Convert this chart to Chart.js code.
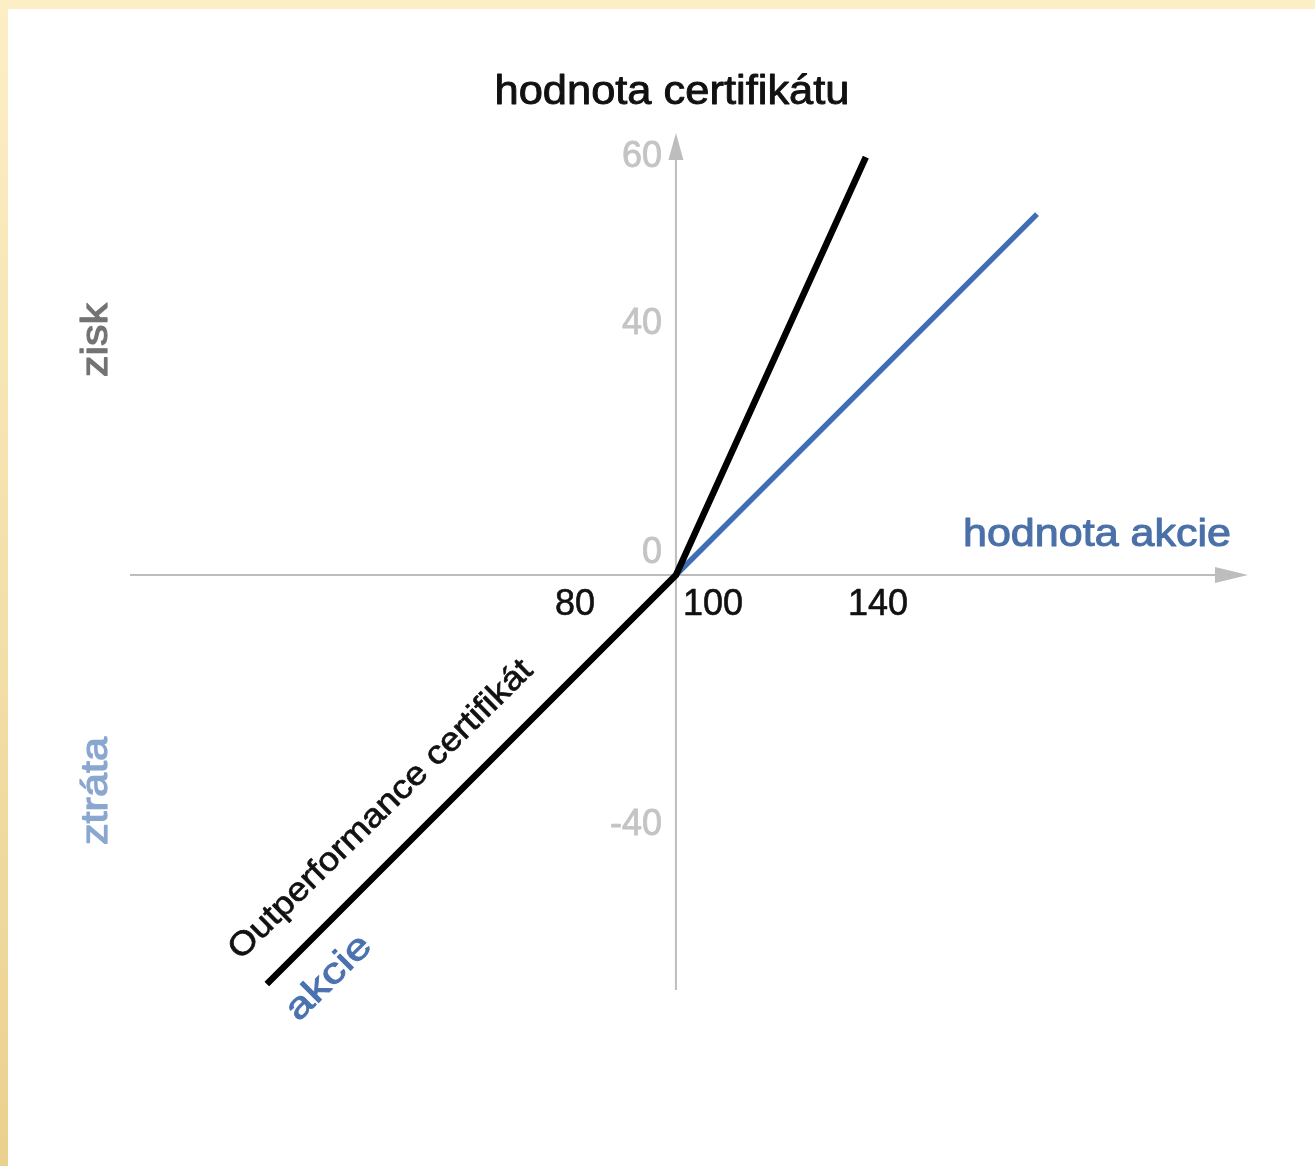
<!DOCTYPE html>
<html><head><meta charset="utf-8">
<style>html,body{margin:0;padding:0;background:#fff;overflow:hidden}#wrap{width:1315px;height:1166px;position:relative}canvas{display:block}</style>
<script src="https://cdn.jsdelivr.net/npm/chart.js@4.4.1/dist/chart.umd.min.js"></script>
</head><body><div id="wrap"><canvas id="c" width="1315" height="1166"></canvas></div>
<script>
// ---- data ----
const certX = [19.0, 100, 137.6];      // Outperformance certifikát
const certY = [-81.0, 0, 82.8];
const stockX = [19.0, 100, 171.5];     // akcie
const stockY = [-81.0, 0, 71.5];
const xTickValues = [80, 100, 140];
const xTickLabels = ['80', '100', '140'];
const yTickValues = [-49.5, 0, 49.7, 82.8];
const yTickLabels = ['-40', '0', '40', '60'];
const crossX = 100, crossY = 0;
const xMin = -8.1, xMax = 210.7, yMin = -82.2, yMax = 84.2;

// ---- style ----
const FONT = "'Liberation Sans', Arial, Helvetica, sans-serif";
const AXIS = '#bdbdbd';
const BLUE = '#3e6eb3';

function txt(ctx, s, x, y, o) {
  ctx.save();
  ctx.font = o.font;
  ctx.fillStyle = o.color;
  ctx.strokeStyle = o.color;
  ctx.textAlign = o.align || 'center';
  ctx.textBaseline = 'middle';
  ctx.translate(x, y);
  if (o.rot) ctx.rotate(o.rot * Math.PI / 180);
  let sx = 1;
  if (o.fitW) sx = o.fitW / ctx.measureText(s).width;
  ctx.scale(sx, 1);
  ctx.fillText(s, 0, 0);
  if (o.weight) { ctx.lineWidth = o.weight; ctx.lineJoin = 'round'; ctx.strokeText(s, 0, 0); }
  ctx.restore();
}

const bgPlugin = {
  id: 'bg',
  beforeDraw(chart) {
    const ctx = chart.ctx, W = chart.width, H = chart.height;
    ctx.save();
    ctx.fillStyle = '#fff';
    ctx.fillRect(0, 0, W, H);
    ctx.fillStyle = '#fcefc6';
    ctx.fillRect(0, 0, W, 9);
    const g = ctx.createLinearGradient(0, 0, 0, H);
    g.addColorStop(0, '#fcefc6');
    g.addColorStop(1, '#ead18f');
    ctx.fillStyle = g;
    ctx.fillRect(0, 0, 8, H);
    ctx.restore();
  }
};

const axesPlugin = {
  id: 'axes',
  beforeDatasetsDraw(chart) {
    const { ctx, chartArea: a, scales: { x, y } } = chart;
    const y0 = y.getPixelForValue(crossY), x0 = x.getPixelForValue(crossX);
    ctx.save();
    ctx.strokeStyle = AXIS; ctx.fillStyle = AXIS; ctx.lineWidth = 2;
    ctx.beginPath(); ctx.moveTo(a.left, y0); ctx.lineTo(a.right, y0); ctx.stroke();
    ctx.beginPath(); ctx.moveTo(a.right + 13, y0); ctx.lineTo(a.right - 20, y0 - 8); ctx.lineTo(a.right - 20, y0 + 8); ctx.closePath(); ctx.fill();
    ctx.beginPath(); ctx.moveTo(x0, a.bottom); ctx.lineTo(x0, a.top); ctx.stroke();
    ctx.beginPath(); ctx.moveTo(x0, a.top - 17); ctx.lineTo(x0 - 7.5, a.top + 10); ctx.lineTo(x0 + 7.5, a.top + 10); ctx.closePath(); ctx.fill();
    ctx.restore();
  },
  afterDraw(chart) {
    const { ctx, scales: { x, y } } = chart;
    const y0 = y.getPixelForValue(crossY), x0 = x.getPixelForValue(crossX);
    // x tick labels
    xTickValues.forEach((v, i) => {
      const px = x.getPixelForValue(v);
      if (v === crossX) txt(ctx, xTickLabels[i], px + 7, y0 + 30, { font: '36px ' + FONT, color: '#111', align: 'left', weight: 0.6 });
      else txt(ctx, xTickLabels[i], px, y0 + 30, { font: '36px ' + FONT, color: '#111', weight: 0.6 });
    });
    // y tick labels
    yTickValues.forEach((v, i) => {
      let py = y.getPixelForValue(v);
      if (v === crossY) py -= 22;
      txt(ctx, yTickLabels[i], x0 - 14, py, { font: '36px ' + FONT, color: '#c4c4c4', align: 'right', weight: 0.8 });
    });
    // titles & annotations
    txt(ctx, 'hodnota certifikátu', 672, 93, { font: '40px ' + FONT, color: '#111', fitW: 355, weight: 0.9 });
    txt(ctx, 'hodnota akcie', 1097, 536, { font: '38px ' + FONT, color: '#4a70a8', fitW: 268, weight: 1 });
    txt(ctx, 'zisk', 97, 340, { font: '37px ' + FONT, color: '#737373', rot: -90, fitW: 74, weight: 1.2 });
    txt(ctx, 'ztráta', 97, 791, { font: '37px ' + FONT, color: '#8aa7d0', rot: -90, fitW: 108, weight: 1.2 });
    txt(ctx, 'Outperformance certifikát', 381, 810, { font: '33px ' + FONT, color: '#111', rot: -44.5, fitW: 412, weight: 0.7 });
    txt(ctx, 'akcie', 329, 978, { font: '36px ' + FONT, color: '#4a72b0', rot: -45, fitW: 106, weight: 0.9 });
  }
};

const ctx = document.getElementById('c').getContext('2d');
new Chart(ctx, {
  type: 'line',
  data: {
    datasets: [
      { label: 'Outperformance certifikát', data: certX.map((v, i) => ({ x: v, y: certY[i] })),
        borderColor: '#000', borderWidth: 6.5, pointRadius: 0, tension: 0, borderCapStyle: 'butt', fill: false },
      { label: 'akcie', data: stockX.map((v, i) => ({ x: v, y: stockY[i] })),
        borderColor: BLUE, borderWidth: 5.5, pointRadius: 0, tension: 0, borderCapStyle: 'butt', fill: false }
    ]
  },
  options: {
    responsive: false, animation: false, devicePixelRatio: 1,
    layout: { padding: { left: 130, right: 80, top: 150, bottom: 176 } },
    plugins: { legend: { display: false }, tooltip: { enabled: false } },
    events: [],
    scales: {
      x: { type: 'linear', min: xMin, max: xMax, display: false },
      y: { type: 'linear', min: yMin, max: yMax, display: false }
    }
  },
  plugins: [bgPlugin, axesPlugin]
});
</script></body></html>
